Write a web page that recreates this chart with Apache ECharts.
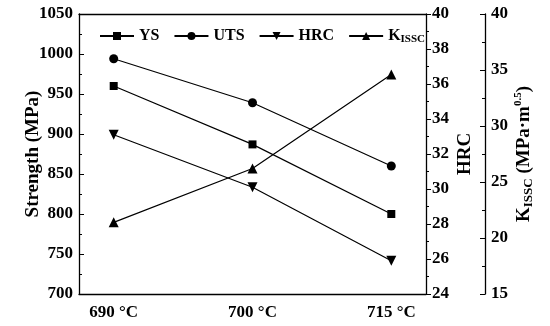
<!DOCTYPE html>
<html><head><meta charset="utf-8">
<script src="https://cdn.jsdelivr.net/npm/echarts@6/dist/echarts.min.js"></script>
<style>html,body{margin:0;padding:0;background:#fff}#c{width:550px;height:326px}</style>
</head><body><div id="c"></div>
<script>
const categories = ['690 °C', '700 °C', '715 °C'];
const ysValues = [960, 887, 800];
const utsValues = [994, 939, 860];
const hrcValues = [33.1, 30.1, 25.9];
const kisscValues = [21.4, 26.2, 34.6];
const strengthTicks = [700, 750, 800, 850, 900, 950, 1000, 1050];
const hrcTicks = [24, 26, 28, 30, 32, 34, 36, 38, 40];
const kTicks = [15, 20, 25, 30, 35, 40];

const F = 'Liberation Serif';
const toPts = arr => arr.map((v, i) => [i, v]);
const chart = echarts.init(document.getElementById('c'));
const lab = {fontFamily: F, fontWeight: 'bold', fontSize: 17, color: '#000', formatter: v => String(v)};
const nameStyle = {fontFamily: F, fontWeight: 'bold', fontSize: 19, color: '#000'};
const axLine = {show: true, onZero: false, lineStyle: {color: '#000', width: 1.3}};
const ser = (name, data, sym, size, yi, rot) => ({
  name, type: 'line', data: toPts(data), yAxisIndex: yi, symbol: sym, symbolSize: size,
  symbolRotate: rot || 0, lineStyle: {color: '#000', width: 1.2}, itemStyle: {color: '#000'}, z: 3
});
chart.setOption({
  animation: false,
  grid: {left: 79, right: 124, top: 14, bottom: 32},
  legend: {
    top: 23, left: 94, itemWidth: 34, itemHeight: 10, itemGap: 14,
    textStyle: {fontFamily: F, fontWeight: 'bold', fontSize: 16, color: '#000',
      rich: {b: {fontFamily: F, fontWeight: 'bold', fontSize: 11, color: '#000', verticalAlign: 'bottom', padding: [6, 0, 0, 0]}}},
    formatter: n => n === 'KISSC' ? 'K{b|ISSC}' : n,
    data: ['YS', 'UTS', 'HRC', 'KISSC']
  },
  xAxis: [{
    type: 'value', min: -0.25, max: 2.25, position: 'bottom',
    axisLine: axLine, axisTick: {show: false}, splitLine: {show: false},
    axisLabel: Object.assign({}, lab, {customValues: [0, 1, 2], formatter: v => categories[Math.round(v)], margin: 10})
  }, {
    type: 'value', min: -0.25, max: 2.25, position: 'top',
    axisLine: axLine, axisTick: {show: false}, splitLine: {show: false}, axisLabel: {show: false}
  }],
  yAxis: [{
    type: 'value', min: strengthTicks[0], max: strengthTicks[strengthTicks.length - 1], interval: 50,
    position: 'left', name: 'Strength (MPa)', nameLocation: 'middle', nameGap: 36, nameRotate: 90, nameMoveOverlap: false,
    nameTextStyle: nameStyle,
    axisLine: axLine, axisTick: {show: true, inside: true, length: 5, lineStyle: {color: '#000'}},
    minorTick: {show: true, splitNumber: 2, length: 3, lineStyle: {color: '#000'}},
    splitLine: {show: false}, axisLabel: Object.assign({}, lab, {margin: 6})
  }, {
    type: 'value', min: hrcTicks[0], max: hrcTicks[hrcTicks.length - 1], interval: 2,
    position: 'right', name: 'HRC', nameLocation: 'middle', nameGap: 30, nameRotate: 90, nameMoveOverlap: false,
    nameTextStyle: nameStyle,
    axisLine: axLine, axisTick: {show: true, inside: false, length: 5, lineStyle: {color: '#000'}},
    minorTick: {show: true, splitNumber: 2, length: 3, lineStyle: {color: '#000'}},
    splitLine: {show: false}, axisLabel: Object.assign({}, lab, {margin: 6})
  }, {
    type: 'value', min: kTicks[0], max: kTicks[kTicks.length - 1], interval: 5,
    position: 'right', offset: 59, name: 'K{b|ISSC} (MPa·m{s|0.5})', nameLocation: 'middle', nameGap: 28, nameRotate: 90, nameMoveOverlap: false,
    nameTextStyle: Object.assign({}, nameStyle, {rich: {
      b: {fontFamily: F, fontWeight: 'bold', fontSize: 13, color: '#000', verticalAlign: 'bottom', padding: [9, 0, 0, 0]},
      s: {fontFamily: F, fontWeight: 'bold', fontSize: 11, color: '#000', verticalAlign: 'top', padding: [0, 0, 9, 0]}
    }}),
    axisLine: axLine, axisTick: {show: true, inside: true, length: 5, lineStyle: {color: '#000'}},
    minorTick: {show: true, splitNumber: 2, length: 3, lineStyle: {color: '#000'}},
    splitLine: {show: false}, axisLabel: Object.assign({}, lab, {margin: 6})
  }],
  series: [
    ser('YS', ysValues, 'rect', 8, 0),
    ser('UTS', utsValues, 'circle', 9, 0),
    ser('HRC', hrcValues, 'triangle', 10, 1, 180),
    ser('KISSC', kisscValues, 'triangle', 10, 2)
  ]
});
</script></body></html>
